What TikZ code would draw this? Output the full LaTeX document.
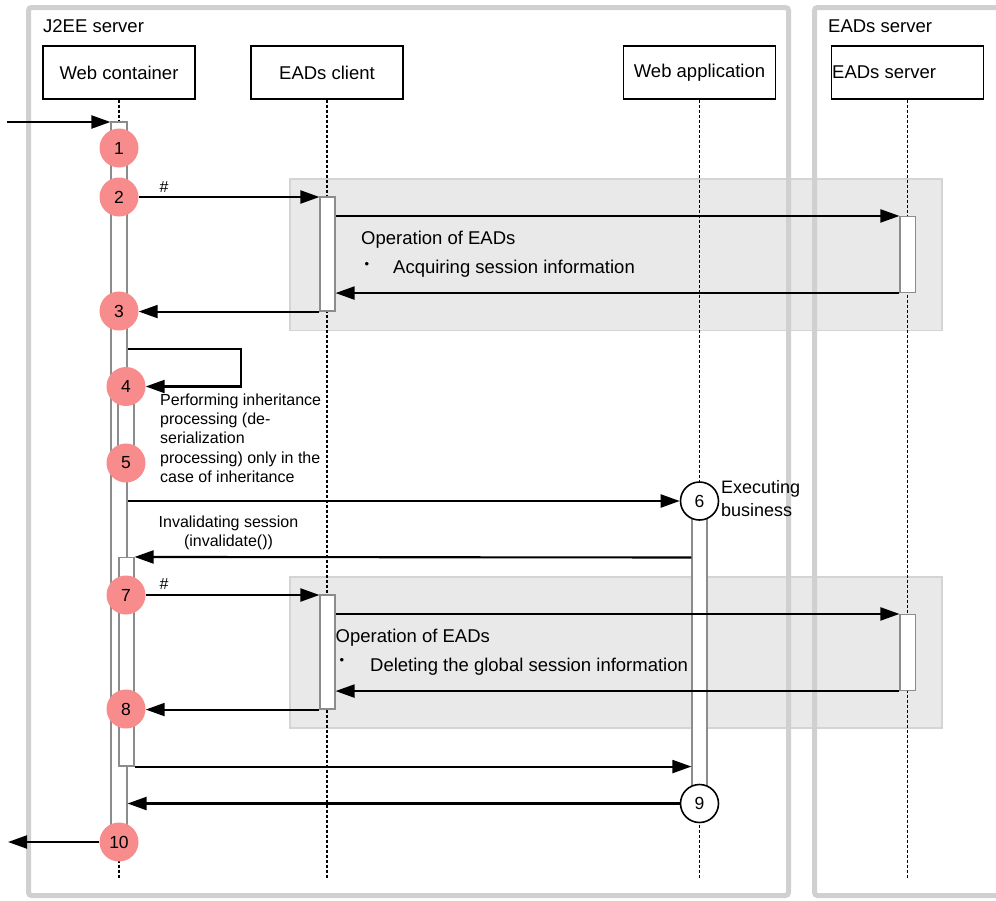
\documentclass[tikz,border=0pt]{standalone}
\usepackage{fontspec}
\setmainfont{Liberation Sans}
\usetikzlibrary{arrows.meta}
\definecolor{framegray}{RGB}{208,208,208}
\definecolor{boxfill}{RGB}{233,233,233}
\definecolor{boxline}{RGB}{212,212,212}
\definecolor{numpink}{RGB}{248,140,140}
\definecolor{bargray}{RGB}{140,140,140}
\begin{document}
\begin{tikzpicture}[x=1pt,y=-1pt,
  hdr/.style={draw=black, line width=1.4pt, fill=white, minimum width=152pt, minimum height=53pt, inner sep=0pt, font=\fontsize{18.5}{22}\selectfont},
  lifeline/.style={draw=black, line width=1.6pt, dash pattern=on 3pt off 2pt},
  actbar/.style={draw=bargray, line width=1.1pt, fill=white, inner sep=0pt},
  opbox/.style={draw=boxline, line width=1.5pt, fill=boxfill, inner sep=0pt},
  frame/.style={draw=framegray, line width=5pt, rounded corners=3pt},
  msg/.style={draw=black, line width=2.1pt, -{Triangle[length=19pt,width=13pt]}},
  num/.style={circle, fill=numpink, minimum size=39pt, inner sep=0pt, font=\fontsize{17.5}{20}\selectfont},
  wnum/.style={circle, draw=black, line width=1.6pt, fill=white, minimum size=38pt, inner sep=0pt, font=\fontsize{17.5}{20}\selectfont},
  lbl/.style={inner sep=0pt, font=\fontsize{18.5}{22}\selectfont},
  small/.style={inner sep=0pt, font=\fontsize{16}{19.3}\selectfont},
  bul/.style={inner sep=0pt, font=\fontsize{13}{15}\selectfont},
  hash/.style={inner sep=0pt, font=\fontsize{16}{18}\selectfont}]
\clip (0,0) rectangle (996,900);
\fill[white] (0,0) rectangle (996,900);

% operation boxes
\node[opbox, minimum width=652pt, minimum height=151.5pt] (op1) at (616,254.75) {};
\node[opbox, minimum width=652pt, minimum height=151pt] (op2) at (616,652.5) {};

% frames
\draw[frame] (28.5,7.5) rectangle (788.5,895.5);
\draw[frame] (814.5,7.5) rectangle (1010,895.5);
\node[lbl, anchor=base west] (j2ee) at (43,32.5) {J2EE server};
\node[lbl, anchor=base west] (eadsfr) at (828,32.5) {EADs server};

% headers
\node[hdr] (wc) at (119,72.5) {Web container};
\node[hdr] (ec) at (327,72.5) {EADs client};
\node[hdr] (wa) at (699.5,72.5) {Web application};
\node[hdr] (es) at (907.5,72.5) {};
\node[lbl, anchor=west] (estxt) at (832,72.5) {EADs server};

% lifelines
\coordinate (bot) at (0,878);
\draw[lifeline] (wc.south) -- (wc.south |- bot);
\draw[lifeline] (ec.south) -- (ec.south |- bot);
\draw[lifeline] (wa.south) -- (wa.south |- bot);
\draw[lifeline] (es.south) -- (es.south |- bot);

% activation bars
\node[actbar, minimum width=16pt, minimum height=720pt] (wcA) at (119,482) {};
\node[actbar, minimum width=16pt, minimum height=77pt] (wcB) at (126,424.5) {};
\node[actbar, minimum width=15pt, minimum height=208.5pt] (wcC) at (126.5,661.75) {};
\node[actbar, minimum width=15pt, minimum height=114pt] (ecA) at (327.5,254) {};
\node[actbar, minimum width=15pt, minimum height=114pt] (ecB) at (327.5,652) {};
\node[actbar, minimum width=15.5pt, minimum height=76pt] (esA) at (907.75,254.5) {};
\node[actbar, minimum width=15.5pt, minimum height=76pt] (esB) at (907.75,652.5) {};
\node[actbar, minimum width=15pt, minimum height=302.5pt] (waA) at (699.5,652.25) {};

% numbered circles
\node[num] (c1) at (119,148) {1};
\node[num] (c2) at (119,197) {2};
\node[num] (c3) at (119,311) {3};
\node[num] (c4) at (126,386.5) {4};
\node[num] (c5) at (126,463) {5};
\node[num] (c7) at (126,595) {7};
\node[num] (c8) at (126,709) {8};
\node[num] (c10) at (119,842) {10};
\node[wnum] (c6) at (699.5,501) {6};
\node[wnum] (c9) at (699.5,803.5) {9};

% messages
\coordinate (in1) at (7,122);
\draw[msg] (in1) -- (in1 -| wcA.west);
\draw[msg] (c2.east) -- (c2.east -| ecA.west);
\node[hash] (h1) at (164,187) {\#};
\draw[msg] (ecA.east |- esA.north) -- (esA.north west);
\draw[msg] (esA.south west) -- (esA.south west -| ecA.east);
\draw[msg] (ecA.south west) -- (ecA.south west -| c3.east);
\coordinate (lp1) at (241,349.3);
\coordinate (lp2) at (241,386.5);
\draw[msg] (wcA.east |- lp1) -- (lp1) -- (lp2) -- (c4.east);
\draw[msg] (wcA.east |- c6.west) -- (c6.west);
\coordinate (inv) at (0,557.5);
\draw[msg] (waA.west |- inv) -- (wcC.north east);
\draw[msg] (c7.east) -- (c7.east -| ecB.west);
\node[hash] (h2) at (164,584) {\#};
\draw[msg] (ecB.east |- esB.north) -- (esB.north west);
\draw[msg] (esB.south west) -- (esB.south west -| ecB.east);
\draw[msg] (ecB.south west) -- (ecB.south west -| c8.east);
\draw[msg] (wcC.south east) -- (wcC.south east -| waA.west);
\draw[msg] (c9.west) -- (c9.west -| wcA.east);
\coordinate (out10) at (8,842);
\draw[msg] (c10.west) -- (out10);

% texts
\node[lbl, anchor=base west] (op1t) at (361,244.5) {Operation of EADs};
\node[bul] (b1) at (367,265) {•};
\node[lbl, anchor=base west] (op1i) at (393,273) {Acquiring session information};
\node[lbl, anchor=base west] (op2t) at (335.5,642) {Operation of EADs};
\node[bul] (b2) at (342,661.5) {•};
\node[lbl, anchor=base west] (op2i) at (370,671.5) {Deleting the global session information};
\node[inner sep=0pt, anchor=north west, align=left, font=\fontsize{18}{22.7}\selectfont] (exe) at (721,480.5) {Executing\\business};
\node[small, anchor=north west, align=left] (perf) at (160,393.5) {Performing inheritance\\processing (de-\\serialization\\processing) only in the\\case of inheritance};
\node[inner sep=0pt, anchor=north, align=center, font=\fontsize{16}{18.7}\selectfont] (invt) at (228.5,515.6) {Invalidating session\\(invalidate())};
\end{tikzpicture}
\end{document}
